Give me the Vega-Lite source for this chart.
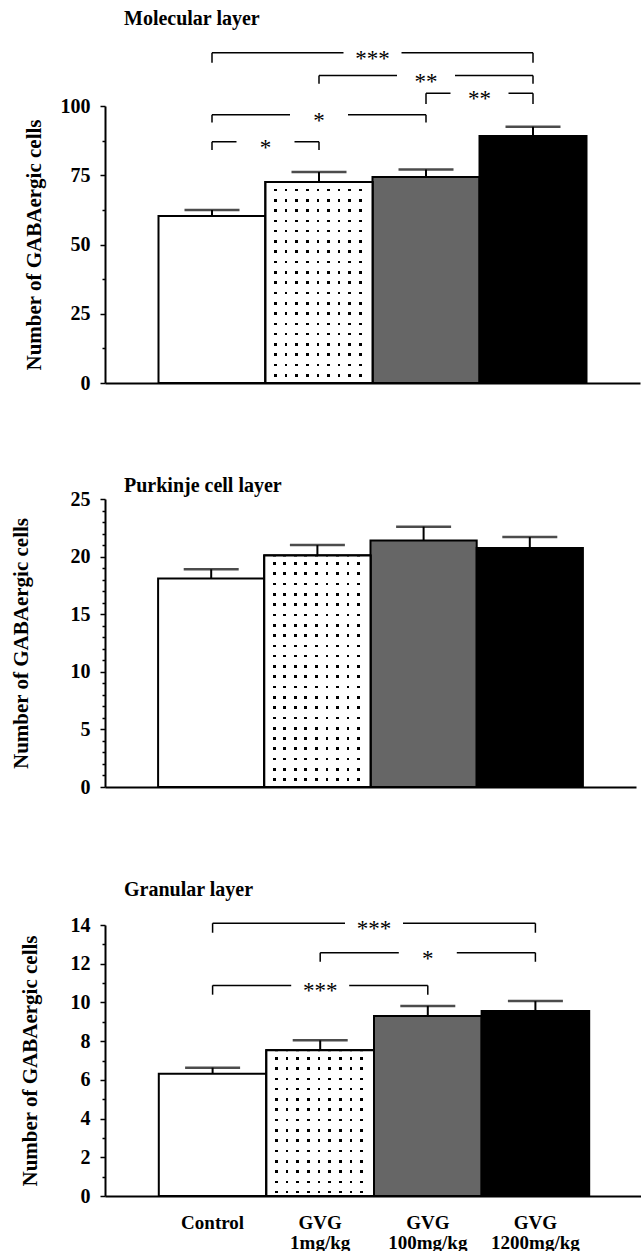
{
  "$schema": "https://vega.github.io/schema/vega-lite/v6.json",
  "padding": {"left": 9, "top": 8, "right": 0, "bottom": 0},
  "spacing": 83,
  "config": {
    "view": {"stroke": null},
    "font": "Liberation Serif",
    "axis": {
      "grid": false,
      "domainColor": "black",
      "domainWidth": 2,
      "tickColor": "black",
      "tickWidth": 1.5,
      "labelFont": "Liberation Serif",
      "labelFontWeight": "bold",
      "labelFontSize": 20,
      "labelColor": "black",
      "titleFont": "Liberation Serif",
      "titleFontWeight": "bold",
      "titleFontSize": 21,
      "titleColor": "black"
    },
    "title": {"font": "Liberation Serif", "fontWeight": "bold", "fontSize": 20, "color": "black", "anchor": "start", "frame": "group"}
  },
  "datasets": {
    "bars": [
      {"panel": "Molecular", "group": "Control", "mean": 60.3, "upper": 62.5},
      {"panel": "Molecular", "group": "GVG 1mg/kg", "mean": 72.6, "upper": 76.2},
      {"panel": "Molecular", "group": "GVG 100mg/kg", "mean": 74.4, "upper": 77.1},
      {"panel": "Molecular", "group": "GVG 1200mg/kg", "mean": 89.2, "upper": 92.5},
      {"panel": "Purkinje", "group": "Control", "mean": 18.1, "upper": 18.9},
      {"panel": "Purkinje", "group": "GVG 1mg/kg", "mean": 20.1, "upper": 21.0},
      {"panel": "Purkinje", "group": "GVG 100mg/kg", "mean": 21.4, "upper": 22.6},
      {"panel": "Purkinje", "group": "GVG 1200mg/kg", "mean": 20.75, "upper": 21.7},
      {"panel": "Granular", "group": "Control", "mean": 6.32, "upper": 6.63},
      {"panel": "Granular", "group": "GVG 1mg/kg", "mean": 7.53, "upper": 8.04},
      {"panel": "Granular", "group": "GVG 100mg/kg", "mean": 9.3, "upper": 9.82},
      {"panel": "Granular", "group": "GVG 1200mg/kg", "mean": 9.56, "upper": 10.07}
    ],
    "brackets": [
      {"panel": "Molecular", "from": 1, "to": 4, "level": 119.2, "end": 115.6, "label": "***"},
      {"panel": "Molecular", "from": 2, "to": 4, "level": 111.0, "end": 108.0, "label": "**"},
      {"panel": "Molecular", "from": 3, "to": 4, "level": 104.6, "end": 100.7, "label": "**"},
      {"panel": "Molecular", "from": 1, "to": 3, "level": 96.8, "end": 94.0, "label": "*"},
      {"panel": "Molecular", "from": 1, "to": 2, "level": 87.1, "end": 84.1, "label": "*"},
      {"panel": "Granular", "from": 1, "to": 4, "level": 14.09, "end": 13.6, "label": "***"},
      {"panel": "Granular", "from": 2, "to": 4, "level": 12.57, "end": 12.1, "label": "*"},
      {"panel": "Granular", "from": 1, "to": 3, "level": 10.88, "end": 10.4, "label": "***"}
    ]
  },
  "vconcat": [
    {
      "title": {"text": "Molecular layer", "dx": 19, "offset": 19},
      "width": 535,
      "height": 277,
      "resolve": {"scale": {"x": "independent"}, "axis": {"y": "independent"}},
      "layer": [
        {
          "data": {"name": "bars"},
          "transform": [{"filter": "datum.panel == 'Molecular'"}],
          "mark": {"type": "bar", "stroke": "black", "strokeWidth": 2},
          "encoding": {
            "x": {"field": "group", "type": "nominal", "sort": null, "scale": {"domain": ["Control", "GVG 1mg/kg", "GVG 100mg/kg", "GVG 1200mg/kg"], "paddingInner": 0, "paddingOuter": 0.5}, "axis": {"labels": false, "ticks": false, "title": null}},
            "y": {"field": "mean", "type": "quantitative", "scale": {"domain": [0, 100], "nice": false},
              "axis": {"orient": "left", "values": [0, 25, 50, 75, 100], "tickSize": 5, "labelPadding": 10, "title": "Number of GABAergic cells", "titlePadding": 16}},
            "fill": {"field": "group", "type": "nominal", "sort": null, "scale": {"domain": ["Control", "GVG 1mg/kg", "GVG 100mg/kg", "GVG 1200mg/kg"], "range": ["#ffffff", "#ffffff", "#666666", "#000000"]}, "legend": null}
          }
        },
        {
          "data": {"name": "bars"},
          "transform": [{"filter": "datum.panel == 'Molecular' && datum.group == 'GVG 1mg/kg'"}],
          "mark": {"type": "bar", "stroke": "black", "strokeWidth": 2, "fill": {"gradient": "linear", "x1": 0, "y1": 0, "x2": 0, "y2": 1, "stops": [
            {"offset": 0, "color": "#fff"},
            {"offset": 0.0333, "color": "#fff"}, {"offset": 0.0333, "color": "#000"}, {"offset": 0.0463, "color": "#000"}, {"offset": 0.0463, "color": "#fff"},
            {"offset": 0.0846, "color": "#fff"}, {"offset": 0.0846, "color": "#000"}, {"offset": 0.0975, "color": "#000"}, {"offset": 0.0975, "color": "#fff"},
            {"offset": 0.1358, "color": "#fff"}, {"offset": 0.1358, "color": "#000"}, {"offset": 0.1488, "color": "#000"}, {"offset": 0.1488, "color": "#fff"},
            {"offset": 0.1871, "color": "#fff"}, {"offset": 0.1871, "color": "#000"}, {"offset": 0.2, "color": "#000"}, {"offset": 0.2, "color": "#fff"},
            {"offset": 0.2383, "color": "#fff"}, {"offset": 0.2383, "color": "#000"}, {"offset": 0.2512, "color": "#000"}, {"offset": 0.2512, "color": "#fff"},
            {"offset": 0.2896, "color": "#fff"}, {"offset": 0.2896, "color": "#000"}, {"offset": 0.3025, "color": "#000"}, {"offset": 0.3025, "color": "#fff"},
            {"offset": 0.3408, "color": "#fff"}, {"offset": 0.3408, "color": "#000"}, {"offset": 0.3537, "color": "#000"}, {"offset": 0.3537, "color": "#fff"},
            {"offset": 0.392, "color": "#fff"}, {"offset": 0.392, "color": "#000"}, {"offset": 0.405, "color": "#000"}, {"offset": 0.405, "color": "#fff"},
            {"offset": 0.4433, "color": "#fff"}, {"offset": 0.4433, "color": "#000"}, {"offset": 0.4562, "color": "#000"}, {"offset": 0.4562, "color": "#fff"},
            {"offset": 0.4945, "color": "#fff"}, {"offset": 0.4945, "color": "#000"}, {"offset": 0.5075, "color": "#000"}, {"offset": 0.5075, "color": "#fff"},
            {"offset": 0.5458, "color": "#fff"}, {"offset": 0.5458, "color": "#000"}, {"offset": 0.5587, "color": "#000"}, {"offset": 0.5587, "color": "#fff"},
            {"offset": 0.597, "color": "#fff"}, {"offset": 0.597, "color": "#000"}, {"offset": 0.61, "color": "#000"}, {"offset": 0.61, "color": "#fff"},
            {"offset": 0.6483, "color": "#fff"}, {"offset": 0.6483, "color": "#000"}, {"offset": 0.6612, "color": "#000"}, {"offset": 0.6612, "color": "#fff"},
            {"offset": 0.6995, "color": "#fff"}, {"offset": 0.6995, "color": "#000"}, {"offset": 0.7124, "color": "#000"}, {"offset": 0.7124, "color": "#fff"},
            {"offset": 0.7507, "color": "#fff"}, {"offset": 0.7507, "color": "#000"}, {"offset": 0.7637, "color": "#000"}, {"offset": 0.7637, "color": "#fff"},
            {"offset": 0.802, "color": "#fff"}, {"offset": 0.802, "color": "#000"}, {"offset": 0.8149, "color": "#000"}, {"offset": 0.8149, "color": "#fff"},
            {"offset": 0.8532, "color": "#fff"}, {"offset": 0.8532, "color": "#000"}, {"offset": 0.8662, "color": "#000"}, {"offset": 0.8662, "color": "#fff"},
            {"offset": 0.9045, "color": "#fff"}, {"offset": 0.9045, "color": "#000"}, {"offset": 0.9174, "color": "#000"}, {"offset": 0.9174, "color": "#fff"},
            {"offset": 0.9557, "color": "#fff"}, {"offset": 0.9557, "color": "#000"}, {"offset": 0.9687, "color": "#000"}, {"offset": 0.9687, "color": "#fff"},
            {"offset": 1, "color": "#fff"}]}},
          "encoding": {
            "x": {"field": "group", "type": "nominal", "sort": null, "scale": {"domain": ["Control", "GVG 1mg/kg", "GVG 100mg/kg", "GVG 1200mg/kg"], "paddingInner": 0, "paddingOuter": 0.5}, "axis": null},
            "y": {"field": "mean", "type": "quantitative", "axis": {"orient": "left", "values": [12.5, 37.5, 62.5, 87.5], "labels": false, "domain": false, "tickSize": 3, "title": null}}
          }
        },
        {
          "data": {"name": "bars"},
          "transform": [{"filter": "datum.panel == 'Molecular' && datum.group == 'GVG 1mg/kg'"}],
          "mark": {"type": "bar", "stroke": "black", "strokeWidth": 2, "fill": {"gradient": "linear", "x1": 0, "y1": 0, "x2": 1, "y2": 0, "stops": [
            {"offset": 0, "color": "#fff"},
            {"offset": 0.0813, "color": "#fff"}, {"offset": 0.0813, "color": "rgba(255,255,255,0)"}, {"offset": 0.1056, "color": "rgba(255,255,255,0)"}, {"offset": 0.1056, "color": "#fff"},
            {"offset": 0.1804, "color": "#fff"}, {"offset": 0.1804, "color": "rgba(255,255,255,0)"}, {"offset": 0.2047, "color": "rgba(255,255,255,0)"}, {"offset": 0.2047, "color": "#fff"},
            {"offset": 0.2794, "color": "#fff"}, {"offset": 0.2794, "color": "rgba(255,255,255,0)"}, {"offset": 0.3037, "color": "rgba(255,255,255,0)"}, {"offset": 0.3037, "color": "#fff"},
            {"offset": 0.3785, "color": "#fff"}, {"offset": 0.3785, "color": "rgba(255,255,255,0)"}, {"offset": 0.4028, "color": "rgba(255,255,255,0)"}, {"offset": 0.4028, "color": "#fff"},
            {"offset": 0.4776, "color": "#fff"}, {"offset": 0.4776, "color": "rgba(255,255,255,0)"}, {"offset": 0.5019, "color": "rgba(255,255,255,0)"}, {"offset": 0.5019, "color": "#fff"},
            {"offset": 0.5766, "color": "#fff"}, {"offset": 0.5766, "color": "rgba(255,255,255,0)"}, {"offset": 0.6009, "color": "rgba(255,255,255,0)"}, {"offset": 0.6009, "color": "#fff"},
            {"offset": 0.6757, "color": "#fff"}, {"offset": 0.6757, "color": "rgba(255,255,255,0)"}, {"offset": 0.7, "color": "rgba(255,255,255,0)"}, {"offset": 0.7, "color": "#fff"},
            {"offset": 0.7748, "color": "#fff"}, {"offset": 0.7748, "color": "rgba(255,255,255,0)"}, {"offset": 0.7991, "color": "rgba(255,255,255,0)"}, {"offset": 0.7991, "color": "#fff"},
            {"offset": 0.8738, "color": "#fff"}, {"offset": 0.8738, "color": "rgba(255,255,255,0)"}, {"offset": 0.8981, "color": "rgba(255,255,255,0)"}, {"offset": 0.8981, "color": "#fff"},
            {"offset": 1, "color": "#fff"}]}},
          "encoding": {
            "x": {"field": "group", "type": "nominal", "sort": null, "scale": {"domain": ["Control", "GVG 1mg/kg", "GVG 100mg/kg", "GVG 1200mg/kg"], "paddingInner": 0, "paddingOuter": 0.5}, "axis": null},
            "y": {"field": "mean", "type": "quantitative", "axis": null}
          }
        },
        {
          "data": {"name": "bars"},
          "transform": [{"filter": "datum.panel == 'Molecular'"}],
          "mark": {"type": "rule", "color": "black", "strokeWidth": 2},
          "encoding": {
            "x": {"field": "group", "type": "nominal", "sort": null, "scale": {"domain": ["Control", "GVG 1mg/kg", "GVG 100mg/kg", "GVG 1200mg/kg"], "paddingInner": 0, "paddingOuter": 0.5}, "axis": null},
            "y": {"field": "mean", "type": "quantitative", "axis": null},
            "y2": {"field": "upper"}
          }
        },
        {
          "data": {"name": "bars"},
          "transform": [{"filter": "datum.panel == 'Molecular'"}],
          "mark": {"type": "tick", "color": "black", "size": 55, "thickness": 2.5, "orient": "horizontal"},
          "encoding": {
            "x": {"field": "group", "type": "nominal", "sort": null, "scale": {"domain": ["Control", "GVG 1mg/kg", "GVG 100mg/kg", "GVG 1200mg/kg"], "paddingInner": 0, "paddingOuter": 0.5}, "axis": null},
            "y": {"field": "upper", "type": "quantitative", "axis": null}
          }
        },
        {
          "data": {"name": "brackets"},
          "transform": [{"filter": "datum.panel == 'Molecular'"}],
          "mark": {"type": "rule", "color": "black", "strokeWidth": 1.5},
          "encoding": {
            "x": {"field": "from", "type": "quantitative", "scale": {"domain": [0, 5], "nice": false, "zero": false}, "axis": null},
            "x2": {"field": "to"},
            "y": {"field": "level", "type": "quantitative", "axis": null}
          }
        },
        {
          "data": {"name": "brackets"},
          "transform": [{"filter": "datum.panel == 'Molecular'"}],
          "mark": {"type": "rule", "color": "black", "strokeWidth": 1.5},
          "encoding": {
            "x": {"field": "from", "type": "quantitative", "scale": {"domain": [0, 5], "nice": false, "zero": false}, "axis": null},
            "y": {"field": "level", "type": "quantitative", "axis": null},
            "y2": {"field": "end"}
          }
        },
        {
          "data": {"name": "brackets"},
          "transform": [{"filter": "datum.panel == 'Molecular'"}],
          "mark": {"type": "rule", "color": "black", "strokeWidth": 1.5},
          "encoding": {
            "x": {"field": "to", "type": "quantitative", "scale": {"domain": [0, 5], "nice": false, "zero": false}, "axis": null},
            "y": {"field": "level", "type": "quantitative", "axis": null},
            "y2": {"field": "end"}
          }
        },
        {
          "data": {"name": "brackets"},
          "transform": [{"filter": "datum.panel == 'Molecular'"}, {"fold": ["from", "to"], "as": ["side", "pos"]}, {"aggregate": [{"op": "mean", "field": "pos", "as": "mid"}], "groupby": ["label", "level"]}],
          "mark": {"type": "tick", "color": "white", "size": 58, "thickness": 7, "orient": "horizontal", "opacity": 1},
          "encoding": {
            "x": {"field": "mid", "type": "quantitative", "scale": {"domain": [0, 5], "nice": false, "zero": false}, "axis": null},
            "y": {"field": "level", "type": "quantitative", "axis": null}
          }
        },
        {
          "data": {"name": "brackets"},
          "transform": [{"filter": "datum.panel == 'Molecular'"}, {"fold": ["from", "to"], "as": ["side", "pos"]}, {"aggregate": [{"op": "mean", "field": "pos", "as": "mid"}], "groupby": ["label", "level"]}],
          "mark": {"type": "text", "font": "Liberation Serif", "fontSize": 23, "color": "black", "baseline": "middle", "dy": 6},
          "encoding": {
            "x": {"field": "mid", "type": "quantitative", "scale": {"domain": [0, 5], "nice": false, "zero": false}, "axis": null},
            "y": {"field": "level", "type": "quantitative", "axis": null},
            "text": {"field": "label"}
          }
        }
      ]
    },
    {
      "title": {"text": "Purkinje cell layer", "dx": 19, "offset": -7},
      "width": 531,
      "height": 288,
      "resolve": {"scale": {"x": "independent"}, "axis": {"y": "independent"}},
      "layer": [
        {
          "data": {"name": "bars"},
          "transform": [{"filter": "datum.panel == 'Purkinje'"}],
          "mark": {"type": "bar", "stroke": "black", "strokeWidth": 2},
          "encoding": {
            "x": {"field": "group", "type": "nominal", "sort": null, "scale": {"domain": ["Control", "GVG 1mg/kg", "GVG 100mg/kg", "GVG 1200mg/kg"], "paddingInner": 0, "paddingOuter": 0.5}, "axis": {"labels": false, "ticks": false, "title": null}},
            "y": {"field": "mean", "type": "quantitative", "scale": {"domain": [0, 25], "nice": false},
              "axis": {"orient": "left", "values": [0, 5, 10, 15, 20, 25], "tickSize": 5, "labelPadding": 10, "title": "Number of GABAergic cells", "titlePadding": 39}},
            "fill": {"field": "group", "type": "nominal", "sort": null, "scale": {"domain": ["Control", "GVG 1mg/kg", "GVG 100mg/kg", "GVG 1200mg/kg"], "range": ["#ffffff", "#ffffff", "#666666", "#000000"]}, "legend": null}
          }
        },
        {
          "data": {"name": "bars"},
          "transform": [{"filter": "datum.panel == 'Purkinje' && datum.group == 'GVG 1mg/kg'"}],
          "mark": {"type": "bar", "stroke": "black", "strokeWidth": 2, "fill": {"gradient": "linear", "x1": 0, "y1": 0, "x2": 0, "y2": 1, "stops": [
            {"offset": 0, "color": "#fff"},
            {"offset": 0.0289, "color": "#fff"}, {"offset": 0.0289, "color": "#000"}, {"offset": 0.0402, "color": "#000"}, {"offset": 0.0402, "color": "#fff"},
            {"offset": 0.0734, "color": "#fff"}, {"offset": 0.0734, "color": "#000"}, {"offset": 0.0846, "color": "#000"}, {"offset": 0.0846, "color": "#fff"},
            {"offset": 0.1179, "color": "#fff"}, {"offset": 0.1179, "color": "#000"}, {"offset": 0.1291, "color": "#000"}, {"offset": 0.1291, "color": "#fff"},
            {"offset": 0.1623, "color": "#fff"}, {"offset": 0.1623, "color": "#000"}, {"offset": 0.1736, "color": "#000"}, {"offset": 0.1736, "color": "#fff"},
            {"offset": 0.2068, "color": "#fff"}, {"offset": 0.2068, "color": "#000"}, {"offset": 0.218, "color": "#000"}, {"offset": 0.218, "color": "#fff"},
            {"offset": 0.2513, "color": "#fff"}, {"offset": 0.2513, "color": "#000"}, {"offset": 0.2625, "color": "#000"}, {"offset": 0.2625, "color": "#fff"},
            {"offset": 0.2958, "color": "#fff"}, {"offset": 0.2958, "color": "#000"}, {"offset": 0.307, "color": "#000"}, {"offset": 0.307, "color": "#fff"},
            {"offset": 0.3402, "color": "#fff"}, {"offset": 0.3402, "color": "#000"}, {"offset": 0.3515, "color": "#000"}, {"offset": 0.3515, "color": "#fff"},
            {"offset": 0.3847, "color": "#fff"}, {"offset": 0.3847, "color": "#000"}, {"offset": 0.3959, "color": "#000"}, {"offset": 0.3959, "color": "#fff"},
            {"offset": 0.4292, "color": "#fff"}, {"offset": 0.4292, "color": "#000"}, {"offset": 0.4404, "color": "#000"}, {"offset": 0.4404, "color": "#fff"},
            {"offset": 0.4737, "color": "#fff"}, {"offset": 0.4737, "color": "#000"}, {"offset": 0.4849, "color": "#000"}, {"offset": 0.4849, "color": "#fff"},
            {"offset": 0.5181, "color": "#fff"}, {"offset": 0.5181, "color": "#000"}, {"offset": 0.5294, "color": "#000"}, {"offset": 0.5294, "color": "#fff"},
            {"offset": 0.5626, "color": "#fff"}, {"offset": 0.5626, "color": "#000"}, {"offset": 0.5738, "color": "#000"}, {"offset": 0.5738, "color": "#fff"},
            {"offset": 0.6071, "color": "#fff"}, {"offset": 0.6071, "color": "#000"}, {"offset": 0.6183, "color": "#000"}, {"offset": 0.6183, "color": "#fff"},
            {"offset": 0.6516, "color": "#fff"}, {"offset": 0.6516, "color": "#000"}, {"offset": 0.6628, "color": "#000"}, {"offset": 0.6628, "color": "#fff"},
            {"offset": 0.696, "color": "#fff"}, {"offset": 0.696, "color": "#000"}, {"offset": 0.7073, "color": "#000"}, {"offset": 0.7073, "color": "#fff"},
            {"offset": 0.7405, "color": "#fff"}, {"offset": 0.7405, "color": "#000"}, {"offset": 0.7517, "color": "#000"}, {"offset": 0.7517, "color": "#fff"},
            {"offset": 0.785, "color": "#fff"}, {"offset": 0.785, "color": "#000"}, {"offset": 0.7962, "color": "#000"}, {"offset": 0.7962, "color": "#fff"},
            {"offset": 0.8294, "color": "#fff"}, {"offset": 0.8294, "color": "#000"}, {"offset": 0.8407, "color": "#000"}, {"offset": 0.8407, "color": "#fff"},
            {"offset": 0.8739, "color": "#fff"}, {"offset": 0.8739, "color": "#000"}, {"offset": 0.8851, "color": "#000"}, {"offset": 0.8851, "color": "#fff"},
            {"offset": 0.9184, "color": "#fff"}, {"offset": 0.9184, "color": "#000"}, {"offset": 0.9296, "color": "#000"}, {"offset": 0.9296, "color": "#fff"},
            {"offset": 0.9629, "color": "#fff"}, {"offset": 0.9629, "color": "#000"}, {"offset": 0.9741, "color": "#000"}, {"offset": 0.9741, "color": "#fff"},
            {"offset": 1, "color": "#fff"}]}},
          "encoding": {
            "x": {"field": "group", "type": "nominal", "sort": null, "scale": {"domain": ["Control", "GVG 1mg/kg", "GVG 100mg/kg", "GVG 1200mg/kg"], "paddingInner": 0, "paddingOuter": 0.5}, "axis": null},
            "y": {"field": "mean", "type": "quantitative", "axis": {"orient": "left", "values": [1,2,3,4,6,7,8,9,11,12,13,14,16,17,18,19,21,22,23,24], "labels": false, "domain": false, "tickSize": 3, "title": null}}
          }
        },
        {
          "data": {"name": "bars"},
          "transform": [{"filter": "datum.panel == 'Purkinje' && datum.group == 'GVG 1mg/kg'"}],
          "mark": {"type": "bar", "stroke": "black", "strokeWidth": 2, "fill": {"gradient": "linear", "x1": 0, "y1": 0, "x2": 1, "y2": 0, "stops": [
            {"offset": 0, "color": "#fff"},
            {"offset": 0.0813, "color": "#fff"}, {"offset": 0.0813, "color": "rgba(255,255,255,0)"}, {"offset": 0.1056, "color": "rgba(255,255,255,0)"}, {"offset": 0.1056, "color": "#fff"},
            {"offset": 0.1804, "color": "#fff"}, {"offset": 0.1804, "color": "rgba(255,255,255,0)"}, {"offset": 0.2047, "color": "rgba(255,255,255,0)"}, {"offset": 0.2047, "color": "#fff"},
            {"offset": 0.2794, "color": "#fff"}, {"offset": 0.2794, "color": "rgba(255,255,255,0)"}, {"offset": 0.3037, "color": "rgba(255,255,255,0)"}, {"offset": 0.3037, "color": "#fff"},
            {"offset": 0.3785, "color": "#fff"}, {"offset": 0.3785, "color": "rgba(255,255,255,0)"}, {"offset": 0.4028, "color": "rgba(255,255,255,0)"}, {"offset": 0.4028, "color": "#fff"},
            {"offset": 0.4776, "color": "#fff"}, {"offset": 0.4776, "color": "rgba(255,255,255,0)"}, {"offset": 0.5019, "color": "rgba(255,255,255,0)"}, {"offset": 0.5019, "color": "#fff"},
            {"offset": 0.5766, "color": "#fff"}, {"offset": 0.5766, "color": "rgba(255,255,255,0)"}, {"offset": 0.6009, "color": "rgba(255,255,255,0)"}, {"offset": 0.6009, "color": "#fff"},
            {"offset": 0.6757, "color": "#fff"}, {"offset": 0.6757, "color": "rgba(255,255,255,0)"}, {"offset": 0.7, "color": "rgba(255,255,255,0)"}, {"offset": 0.7, "color": "#fff"},
            {"offset": 0.7748, "color": "#fff"}, {"offset": 0.7748, "color": "rgba(255,255,255,0)"}, {"offset": 0.7991, "color": "rgba(255,255,255,0)"}, {"offset": 0.7991, "color": "#fff"},
            {"offset": 0.8738, "color": "#fff"}, {"offset": 0.8738, "color": "rgba(255,255,255,0)"}, {"offset": 0.8981, "color": "rgba(255,255,255,0)"}, {"offset": 0.8981, "color": "#fff"},
            {"offset": 1, "color": "#fff"}]}},
          "encoding": {
            "x": {"field": "group", "type": "nominal", "sort": null, "scale": {"domain": ["Control", "GVG 1mg/kg", "GVG 100mg/kg", "GVG 1200mg/kg"], "paddingInner": 0, "paddingOuter": 0.5}, "axis": null},
            "y": {"field": "mean", "type": "quantitative", "axis": null}
          }
        },
        {
          "data": {"name": "bars"},
          "transform": [{"filter": "datum.panel == 'Purkinje'"}],
          "mark": {"type": "rule", "color": "black", "strokeWidth": 2},
          "encoding": {
            "x": {"field": "group", "type": "nominal", "sort": null, "scale": {"domain": ["Control", "GVG 1mg/kg", "GVG 100mg/kg", "GVG 1200mg/kg"], "paddingInner": 0, "paddingOuter": 0.5}, "axis": null},
            "y": {"field": "mean", "type": "quantitative", "axis": null},
            "y2": {"field": "upper"}
          }
        },
        {
          "data": {"name": "bars"},
          "transform": [{"filter": "datum.panel == 'Purkinje'"}],
          "mark": {"type": "tick", "color": "black", "size": 55, "thickness": 2.5, "orient": "horizontal"},
          "encoding": {
            "x": {"field": "group", "type": "nominal", "sort": null, "scale": {"domain": ["Control", "GVG 1mg/kg", "GVG 100mg/kg", "GVG 1200mg/kg"], "paddingInner": 0, "paddingOuter": 0.5}, "axis": null},
            "y": {"field": "upper", "type": "quantitative", "axis": null}
          }
        }
      ]
    },
    {
      "title": {"text": "Granular layer", "dx": 19, "offset": 15},
      "width": 538,
      "height": 271,
      "resolve": {"scale": {"x": "independent"}, "axis": {"y": "independent"}},
      "layer": [
        {
          "data": {"name": "bars"},
          "transform": [{"filter": "datum.panel == 'Granular'"}],
          "mark": {"type": "bar", "stroke": "black", "strokeWidth": 2},
          "encoding": {
            "x": {"field": "group", "type": "nominal", "sort": null, "scale": {"domain": ["Control", "GVG 1mg/kg", "GVG 100mg/kg", "GVG 1200mg/kg"], "paddingInner": 0, "paddingOuter": 0.5}, "axis": {"ticks": false, "title": null, "labelAngle": 0, "labelBaseline": "top", "labelPadding": 17, "labelFontSize": 19, "labelLineHeight": 20, "labelExpr": "split(datum.label, ' ')"}},
            "y": {"field": "mean", "type": "quantitative", "scale": {"domain": [0, 14], "nice": false},
              "axis": {"orient": "left", "values": [0, 2, 4, 6, 8, 10, 12, 14], "tickSize": 5, "labelPadding": 10, "title": "Number of GABAergic cells", "titlePadding": 30}},
            "fill": {"field": "group", "type": "nominal", "sort": null, "scale": {"domain": ["Control", "GVG 1mg/kg", "GVG 100mg/kg", "GVG 1200mg/kg"], "range": ["#ffffff", "#ffffff", "#666666", "#000000"]}, "legend": null}
          }
        },
        {
          "data": {"name": "bars"},
          "transform": [{"filter": "datum.panel == 'Granular' && datum.group == 'GVG 1mg/kg'"}],
          "mark": {"type": "bar", "stroke": "black", "strokeWidth": 2, "fill": {"gradient": "linear", "x1": 0, "y1": 0, "x2": 0, "y2": 1, "stops": [
            {"offset": 0, "color": "#fff"},
            {"offset": 0.046, "color": "#fff"}, {"offset": 0.046, "color": "#000"}, {"offset": 0.0638, "color": "#000"}, {"offset": 0.0638, "color": "#fff"},
            {"offset": 0.1166, "color": "#fff"}, {"offset": 0.1166, "color": "#000"}, {"offset": 0.1344, "color": "#000"}, {"offset": 0.1344, "color": "#fff"},
            {"offset": 0.1872, "color": "#fff"}, {"offset": 0.1872, "color": "#000"}, {"offset": 0.2051, "color": "#000"}, {"offset": 0.2051, "color": "#fff"},
            {"offset": 0.2579, "color": "#fff"}, {"offset": 0.2579, "color": "#000"}, {"offset": 0.2757, "color": "#000"}, {"offset": 0.2757, "color": "#fff"},
            {"offset": 0.3285, "color": "#fff"}, {"offset": 0.3285, "color": "#000"}, {"offset": 0.3464, "color": "#000"}, {"offset": 0.3464, "color": "#fff"},
            {"offset": 0.3992, "color": "#fff"}, {"offset": 0.3992, "color": "#000"}, {"offset": 0.417, "color": "#000"}, {"offset": 0.417, "color": "#fff"},
            {"offset": 0.4698, "color": "#fff"}, {"offset": 0.4698, "color": "#000"}, {"offset": 0.4877, "color": "#000"}, {"offset": 0.4877, "color": "#fff"},
            {"offset": 0.5405, "color": "#fff"}, {"offset": 0.5405, "color": "#000"}, {"offset": 0.5583, "color": "#000"}, {"offset": 0.5583, "color": "#fff"},
            {"offset": 0.6111, "color": "#fff"}, {"offset": 0.6111, "color": "#000"}, {"offset": 0.6289, "color": "#000"}, {"offset": 0.6289, "color": "#fff"},
            {"offset": 0.6818, "color": "#fff"}, {"offset": 0.6818, "color": "#000"}, {"offset": 0.6996, "color": "#000"}, {"offset": 0.6996, "color": "#fff"},
            {"offset": 0.7524, "color": "#fff"}, {"offset": 0.7524, "color": "#000"}, {"offset": 0.7702, "color": "#000"}, {"offset": 0.7702, "color": "#fff"},
            {"offset": 0.823, "color": "#fff"}, {"offset": 0.823, "color": "#000"}, {"offset": 0.8409, "color": "#000"}, {"offset": 0.8409, "color": "#fff"},
            {"offset": 0.8937, "color": "#fff"}, {"offset": 0.8937, "color": "#000"}, {"offset": 0.9115, "color": "#000"}, {"offset": 0.9115, "color": "#fff"},
            {"offset": 0.9643, "color": "#fff"}, {"offset": 0.9643, "color": "#000"}, {"offset": 0.9822, "color": "#000"}, {"offset": 0.9822, "color": "#fff"},
            {"offset": 1, "color": "#fff"}]}},
          "encoding": {
            "x": {"field": "group", "type": "nominal", "sort": null, "scale": {"domain": ["Control", "GVG 1mg/kg", "GVG 100mg/kg", "GVG 1200mg/kg"], "paddingInner": 0, "paddingOuter": 0.5}, "axis": null},
            "y": {"field": "mean", "type": "quantitative", "axis": {"orient": "left", "values": [1, 3, 5, 7, 9, 11, 13], "labels": false, "domain": false, "tickSize": 3, "title": null}}
          }
        },
        {
          "data": {"name": "bars"},
          "transform": [{"filter": "datum.panel == 'Granular' && datum.group == 'GVG 1mg/kg'"}],
          "mark": {"type": "bar", "stroke": "black", "strokeWidth": 2, "fill": {"gradient": "linear", "x1": 0, "y1": 0, "x2": 1, "y2": 0, "stops": [
            {"offset": 0, "color": "#fff"},
            {"offset": 0.0813, "color": "#fff"}, {"offset": 0.0813, "color": "rgba(255,255,255,0)"}, {"offset": 0.1056, "color": "rgba(255,255,255,0)"}, {"offset": 0.1056, "color": "#fff"},
            {"offset": 0.1804, "color": "#fff"}, {"offset": 0.1804, "color": "rgba(255,255,255,0)"}, {"offset": 0.2047, "color": "rgba(255,255,255,0)"}, {"offset": 0.2047, "color": "#fff"},
            {"offset": 0.2794, "color": "#fff"}, {"offset": 0.2794, "color": "rgba(255,255,255,0)"}, {"offset": 0.3037, "color": "rgba(255,255,255,0)"}, {"offset": 0.3037, "color": "#fff"},
            {"offset": 0.3785, "color": "#fff"}, {"offset": 0.3785, "color": "rgba(255,255,255,0)"}, {"offset": 0.4028, "color": "rgba(255,255,255,0)"}, {"offset": 0.4028, "color": "#fff"},
            {"offset": 0.4776, "color": "#fff"}, {"offset": 0.4776, "color": "rgba(255,255,255,0)"}, {"offset": 0.5019, "color": "rgba(255,255,255,0)"}, {"offset": 0.5019, "color": "#fff"},
            {"offset": 0.5766, "color": "#fff"}, {"offset": 0.5766, "color": "rgba(255,255,255,0)"}, {"offset": 0.6009, "color": "rgba(255,255,255,0)"}, {"offset": 0.6009, "color": "#fff"},
            {"offset": 0.6757, "color": "#fff"}, {"offset": 0.6757, "color": "rgba(255,255,255,0)"}, {"offset": 0.7, "color": "rgba(255,255,255,0)"}, {"offset": 0.7, "color": "#fff"},
            {"offset": 0.7748, "color": "#fff"}, {"offset": 0.7748, "color": "rgba(255,255,255,0)"}, {"offset": 0.7991, "color": "rgba(255,255,255,0)"}, {"offset": 0.7991, "color": "#fff"},
            {"offset": 0.8738, "color": "#fff"}, {"offset": 0.8738, "color": "rgba(255,255,255,0)"}, {"offset": 0.8981, "color": "rgba(255,255,255,0)"}, {"offset": 0.8981, "color": "#fff"},
            {"offset": 1, "color": "#fff"}]}},
          "encoding": {
            "x": {"field": "group", "type": "nominal", "sort": null, "scale": {"domain": ["Control", "GVG 1mg/kg", "GVG 100mg/kg", "GVG 1200mg/kg"], "paddingInner": 0, "paddingOuter": 0.5}, "axis": null},
            "y": {"field": "mean", "type": "quantitative", "axis": null}
          }
        },
        {
          "data": {"name": "bars"},
          "transform": [{"filter": "datum.panel == 'Granular'"}],
          "mark": {"type": "rule", "color": "black", "strokeWidth": 2},
          "encoding": {
            "x": {"field": "group", "type": "nominal", "sort": null, "scale": {"domain": ["Control", "GVG 1mg/kg", "GVG 100mg/kg", "GVG 1200mg/kg"], "paddingInner": 0, "paddingOuter": 0.5}, "axis": null},
            "y": {"field": "mean", "type": "quantitative", "axis": null},
            "y2": {"field": "upper"}
          }
        },
        {
          "data": {"name": "bars"},
          "transform": [{"filter": "datum.panel == 'Granular'"}],
          "mark": {"type": "tick", "color": "black", "size": 55, "thickness": 2.5, "orient": "horizontal"},
          "encoding": {
            "x": {"field": "group", "type": "nominal", "sort": null, "scale": {"domain": ["Control", "GVG 1mg/kg", "GVG 100mg/kg", "GVG 1200mg/kg"], "paddingInner": 0, "paddingOuter": 0.5}, "axis": null},
            "y": {"field": "upper", "type": "quantitative", "axis": null}
          }
        },
        {
          "data": {"name": "brackets"},
          "transform": [{"filter": "datum.panel == 'Granular'"}],
          "mark": {"type": "rule", "color": "black", "strokeWidth": 1.5},
          "encoding": {
            "x": {"field": "from", "type": "quantitative", "scale": {"domain": [0, 5], "nice": false, "zero": false}, "axis": null},
            "x2": {"field": "to"},
            "y": {"field": "level", "type": "quantitative", "axis": null}
          }
        },
        {
          "data": {"name": "brackets"},
          "transform": [{"filter": "datum.panel == 'Granular'"}],
          "mark": {"type": "rule", "color": "black", "strokeWidth": 1.5},
          "encoding": {
            "x": {"field": "from", "type": "quantitative", "scale": {"domain": [0, 5], "nice": false, "zero": false}, "axis": null},
            "y": {"field": "level", "type": "quantitative", "axis": null},
            "y2": {"field": "end"}
          }
        },
        {
          "data": {"name": "brackets"},
          "transform": [{"filter": "datum.panel == 'Granular'"}],
          "mark": {"type": "rule", "color": "black", "strokeWidth": 1.5},
          "encoding": {
            "x": {"field": "to", "type": "quantitative", "scale": {"domain": [0, 5], "nice": false, "zero": false}, "axis": null},
            "y": {"field": "level", "type": "quantitative", "axis": null},
            "y2": {"field": "end"}
          }
        },
        {
          "data": {"name": "brackets"},
          "transform": [{"filter": "datum.panel == 'Granular'"}, {"fold": ["from", "to"], "as": ["side", "pos"]}, {"aggregate": [{"op": "mean", "field": "pos", "as": "mid"}], "groupby": ["label", "level"]}],
          "mark": {"type": "tick", "color": "white", "size": 58, "thickness": 7, "orient": "horizontal", "opacity": 1},
          "encoding": {
            "x": {"field": "mid", "type": "quantitative", "scale": {"domain": [0, 5], "nice": false, "zero": false}, "axis": null},
            "y": {"field": "level", "type": "quantitative", "axis": null}
          }
        },
        {
          "data": {"name": "brackets"},
          "transform": [{"filter": "datum.panel == 'Granular'"}, {"fold": ["from", "to"], "as": ["side", "pos"]}, {"aggregate": [{"op": "mean", "field": "pos", "as": "mid"}], "groupby": ["label", "level"]}],
          "mark": {"type": "text", "font": "Liberation Serif", "fontSize": 23, "color": "black", "baseline": "middle", "dy": 6},
          "encoding": {
            "x": {"field": "mid", "type": "quantitative", "scale": {"domain": [0, 5], "nice": false, "zero": false}, "axis": null},
            "y": {"field": "level", "type": "quantitative", "axis": null},
            "text": {"field": "label"}
          }
        }
      ]
    }
  ]
}
